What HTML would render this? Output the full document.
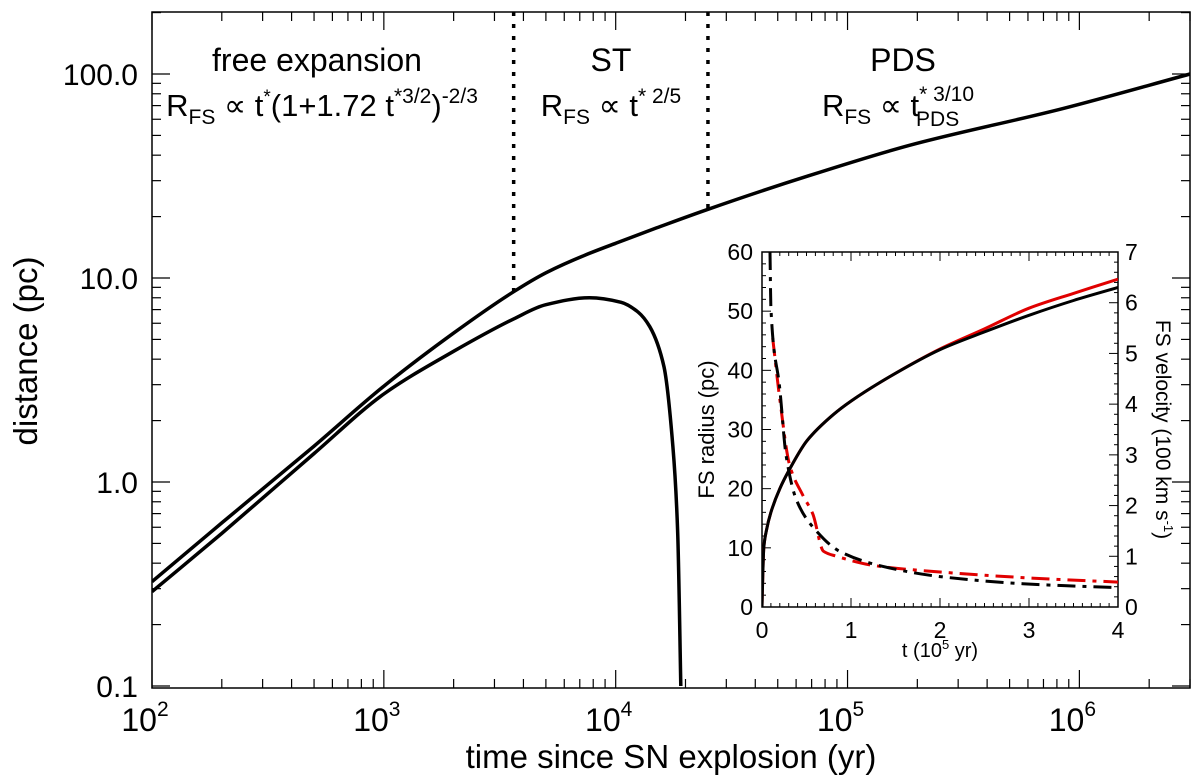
<!DOCTYPE html>
<html><head><meta charset="utf-8">
<style>
body{margin:0;background:#fff;}
svg{display:block;font-family:"Liberation Sans",Arial,sans-serif;}
</style></head>
<body>
<svg id="chart" width="1200" height="777" viewBox="0 0 1200 777">
<rect x="0" y="0" width="1200" height="777" fill="#fff"/>
<g id="main"></g>
<g id="inset"></g>
</svg>
<script>
// ---- main chart data ----
const outerT = [100,200,500,1000,2000,3630,5000,7400,10000,15000,24660,67300,185000,845000,3000000];
const outerR = [0.325,0.63,1.5,2.95,5.37,8.57,10.6,12.97,14.8,17.6,21.6,31.6,44.7,67.6,100];
const innerT = [100,200,500,1000,2000,3630,5000,7700,10550,12500,14030,16150,17650,18500,19100];
const innerR = [0.29,0.56,1.38,2.7,4.37,6.3,7.4,8.0,7.6,6.8,5.77,3.67,1.49,0.58,0.1];
const phaseT = [3630,25000];
const yTicks = [0.1,1,10,100];
const yTickLabels = ["0.1","1.0","10.0","100.0"];
const xTicks = [100,1000,10000,100000,1000000];
const xTickExp = ["2","3","4","5","6"];
// ---- inset data ----
const insT_R = [0,0.01,0.02,0.05,0.1,0.2,0.3,0.5,0.8,1.0,1.5,2.0,2.5,3.0,3.5,4.0];
const insR_black = [0,6,10,13,16,20,23,28,32.5,34.8,39.5,43.5,46.5,49.3,51.8,54];
const insR_red = [0,6,10,13,16,20,23,28,32.5,34.8,39.5,43.6,47,50.5,53,55.4];
const insT_Vb = [0.09,0.1,0.2,0.27,0.39,0.61,0.87,1.36,2.0,2.93,4.0];
const insV_black = [7,5.9,4.3,3.0,2.1,1.5,1.1,0.8,0.6,0.46,0.38];
const insT_Vr = [0.12,0.2,0.31,0.46,0.57,0.69,0.84,1.25,2.0,2.93,4.0];
const insV_red = [5.3,4.1,2.8,2.2,1.84,1.1,1.0,0.82,0.69,0.58,0.49];
const insXTicks = [0,1,2,3,4];
const insYLTicks = [0,10,20,30,40,50,60];
const insYRTicks = [0,1,2,3,4,5,6,7];

const NS="http://www.w3.org/2000/svg";
function mk(parent,tag,attrs,text){const e=document.createElementNS(NS,tag);for(const k in attrs)e.setAttribute(k,attrs[k]);if(text!==undefined)e.textContent=text;parent.appendChild(e);return e;}
// monotone cubic (Fritsch-Carlson) in x
function smooth(pts){const n=pts.length;const dx=[],m=[],tg=[];
 for(let i=0;i<n-1;i++){dx[i]=pts[i+1][0]-pts[i][0];m[i]=(pts[i+1][1]-pts[i][1])/dx[i];}
 tg[0]=m[0];tg[n-1]=m[n-2];
 for(let i=1;i<n-1;i++){if(m[i-1]*m[i]<=0)tg[i]=0;else{const w1=2*dx[i]+dx[i-1],w2=dx[i]+2*dx[i-1];tg[i]=(w1+w2)/(w1/m[i-1]+w2/m[i]);}}
 let d="M"+pts[0][0].toFixed(1)+","+pts[0][1].toFixed(1);
 for(let i=0;i<n-1;i++){const h=dx[i]/3;
  d+="C"+(pts[i][0]+h).toFixed(1)+","+(pts[i][1]+tg[i]*h).toFixed(1)+" "+(pts[i+1][0]-h).toFixed(1)+","+(pts[i+1][1]-tg[i+1]*h).toFixed(1)+" "+pts[i+1][0].toFixed(1)+","+pts[i+1][1].toFixed(1);}
 return d;}

// main axes
const L=152,R=1190,T=12,B=688;
const xmin=2, xmax=Math.log10(3e6);
const X=t=>L+(Math.log10(t)-xmin)/(xmax-xmin)*(R-L);
const Y=r=>482-Math.log10(r)*204;
const g=document.getElementById('main');
const clipM=mk(g,'clipPath',{id:'clipMain'});mk(clipM,'rect',{x:L,y:T,width:R-L,height:B-T});
const frame=mk(g,'rect',{x:L,y:T,width:R-L,height:B-T,fill:'none',stroke:'#000','stroke-width':1.5});


for(let e=2;e<=6;e++){for(let m=1;m<10;m++){const t=m*Math.pow(10,e);if(t>3e6)break;const x=X(t);const len=m===1?18:9;
 mk(g,'line',{x1:x,y1:B,x2:x,y2:B-len,stroke:'#000','stroke-width':1.2});
 mk(g,'line',{x1:x,y1:T,x2:x,y2:T+len,stroke:'#000','stroke-width':1.2});}}
xTicks.forEach((t,i)=>{const tx=mk(g,'text',{x:X(t)-7,y:731,'font-size':32,'text-anchor':'middle'});
 
 
 tx.textContent="10";mk(tx,'tspan',{dy:-15,'font-size':21},xTickExp[i]);});
for(let e=-2;e<=2;e++){for(let m=1;m<10;m++){const r=m*Math.pow(10,e);const y=Y(r);if(y<T||y>B)continue;const len=m===1?18:9;
 mk(g,'line',{x1:L,y1:y,x2:L+len,y2:y,stroke:'#000','stroke-width':1.2});
 mk(g,'line',{x1:R,y1:y,x2:R-len,y2:y,stroke:'#000','stroke-width':1.2});}}
yTicks.forEach((r,i)=>{const tx=mk(g,'text',{x:138,y:Y(r)+11,'font-size':30,'text-anchor':'end'},yTickLabels[i]);
 
 });
const xt=mk(g,'text',{x:671,y:768,'font-size':33,'text-anchor':'middle'},'time since SN explosion (yr)');


const yt=mk(g,'text',{x:0,y:0,'font-size':33,'text-anchor':'middle',transform:'translate(37,351) rotate(-90)'},'distance (pc)');


function interp(t){const lt=Math.log10(t);for(let i=0;i<outerT.length-1;i++){const a=Math.log10(outerT[i]),b=Math.log10(outerT[i+1]);if(lt>=a&&lt<=b){const f=(lt-a)/(b-a);return Math.pow(10,Math.log10(outerR[i])*(1-f)+Math.log10(outerR[i+1])*f);}}return 1;}
phaseT.forEach(t=>{const l=mk(g,'line',{x1:X(t),y1:T,x2:X(t),y2:Y(interp(t))+2,stroke:'#000','stroke-width':3.5,'stroke-dasharray':'4 8'});
 
 });
const po=mk(g,'path',{d:smooth(outerT.map((t,i)=>[X(t),Y(outerR[i])])),fill:'none',stroke:'#000','stroke-width':3.5,'clip-path':'url(#clipMain)'});


const pi=mk(g,'path',{d:smooth(innerT.map((t,i)=>[X(t),Y(innerR[i])])),fill:'none',stroke:'#000','stroke-width':3.5,'clip-path':'url(#clipMain)'});


function ann(x,y,name,fs,build){const t=mk(g,'text',{x:x,y:y,'font-size':fs,'text-anchor':'middle'});build(t);}
ann(317,71,'free-expansion-label',32,t=>t.textContent='free expansion');
ann(611,71,'st-phase-label',32,t=>t.textContent='ST');
ann(903,71,'pds-phase-label',32,t=>t.textContent='PDS');
ann(322,116,'free-expansion-formula',31,t=>{t.textContent='R';mk(t,'tspan',{dy:8,'font-size':21},'FS');mk(t,'tspan',{dy:-8},' \u221D t');mk(t,'tspan',{dy:-13,'font-size':19},'*');mk(t,'tspan',{dy:13},'(1+1.72  t');mk(t,'tspan',{dy:-13,'font-size':21},'*3/2');mk(t,'tspan',{dy:13},')');mk(t,'tspan',{dy:-13,'font-size':21},'-2/3');});
ann(611,116,'st-formula',31,t=>{t.textContent='R';mk(t,'tspan',{dy:8,'font-size':21},'FS');mk(t,'tspan',{dy:-8},' \u221D t');mk(t,'tspan',{dy:-13,'font-size':21},'* 2/5');});
ann(898,116,'pds-formula',31,t=>{t.textContent='R';mk(t,'tspan',{dy:8,'font-size':21},'FS');mk(t,'tspan',{dy:-8},' \u221D t');mk(t,'tspan',{dy:-15,'font-size':21},'* 3/10');mk(t,'tspan',{dx:-58,dy:25,'font-size':21},'PDS');});

// inset
const gi=document.getElementById('inset');
const iL=762,iR=1118,iT=252,iB=607;
const iX=t=>iL+t/4*(iR-iL);
const iYL=r=>iB-r/60*(iB-iT);
const iYR=v=>iB-v/7*(iB-iT);
mk(gi,'rect',{x:iL,y:iT,width:iR-iL,height:iB-iT,fill:'#fff'});
const clipI=mk(gi,'clipPath',{id:'clipInset'});mk(clipI,'rect',{x:iL,y:iT,width:iR-iL,height:iB-iT});
const ifr=mk(gi,'rect',{x:iL,y:iT,width:iR-iL,height:iB-iT,fill:'none',stroke:'#000','stroke-width':1.5});


for(let i=0;i<=40;i++){const t=i*0.1,x=iX(t),len=i%10===0?9:4;
 mk(gi,'line',{x1:x,y1:iB,x2:x,y2:iB-len,stroke:'#000','stroke-width':1});
 mk(gi,'line',{x1:x,y1:iT,x2:x,y2:iT+len,stroke:'#000','stroke-width':1});}
for(let i=0;i<=60;i+=2){const y=iYL(i),len=i%10===0?9:4;mk(gi,'line',{x1:iL,y1:y,x2:iL+len,y2:y,stroke:'#000','stroke-width':1});}
for(let i=0;i<=35;i++){const y=iYR(i*0.2),len=i%5===0?9:4;mk(gi,'line',{x1:iR,y1:y,x2:iR-len,y2:y,stroke:'#000','stroke-width':1});}
insXTicks.forEach(t=>{const e=mk(gi,'text',{x:iX(t),y:638,'font-size':23,'text-anchor':'middle'},String(t));
 
 });
insYLTicks.forEach(v=>{const e=mk(gi,'text',{x:753,y:iYL(v)+8,'font-size':23,'text-anchor':'end'},String(v));
 
 });
insYRTicks.forEach(v=>{const e=mk(gi,'text',{x:1125,y:iYR(v)+8,'font-size':23,'text-anchor':'start'},String(v));
 
 });
const ixt=mk(gi,'text',{x:iX(2),y:657,'font-size':20,'text-anchor':'middle'});


ixt.textContent='t (10';mk(ixt,'tspan',{dy:-8,'font-size':13},'5');mk(ixt,'tspan',{dy:8},' yr)');
const iyl=mk(gi,'text',{x:0,y:0,'font-size':22,'text-anchor':'middle',transform:`translate(714,${(iT+iB)/2}) rotate(-90)`},'FS radius (pc)');


const iyr=mk(gi,'text',{x:0,y:0,'font-size':21,'text-anchor':'middle',transform:`translate(1156,${(iT+iB)/2}) rotate(90)`});


iyr.textContent='FS velocity (100 km s';mk(iyr,'tspan',{dy:-8,'font-size':13},'-1');mk(iyr,'tspan',{dy:8},')');
const rr=mk(gi,'path',{d:smooth(insT_R.map((t,i)=>[iX(t),iYL(insR_red[i])])),fill:'none',stroke:'#e00000','stroke-width':3,'clip-path':'url(#clipInset)'});


const rb=mk(gi,'path',{d:smooth(insT_R.map((t,i)=>[iX(t),iYL(insR_black[i])])),fill:'none',stroke:'#000','stroke-width':3,'clip-path':'url(#clipInset)'});


const vr=mk(gi,'path',{d:smooth(insT_Vr.map((t,i)=>[iX(t),iYR(insV_red[i])])),fill:'none',stroke:'#e00000','stroke-width':3,'stroke-dasharray':'18 7 4 7','clip-path':'url(#clipInset)'});


const vb=mk(gi,'path',{d:smooth(insT_Vb.map((t,i)=>[iX(t),iYR(insV_black[i])])),fill:'none',stroke:'#000','stroke-width':3,'stroke-dasharray':'18 7 4 7','clip-path':'url(#clipInset)'});


</script>
</body></html>
